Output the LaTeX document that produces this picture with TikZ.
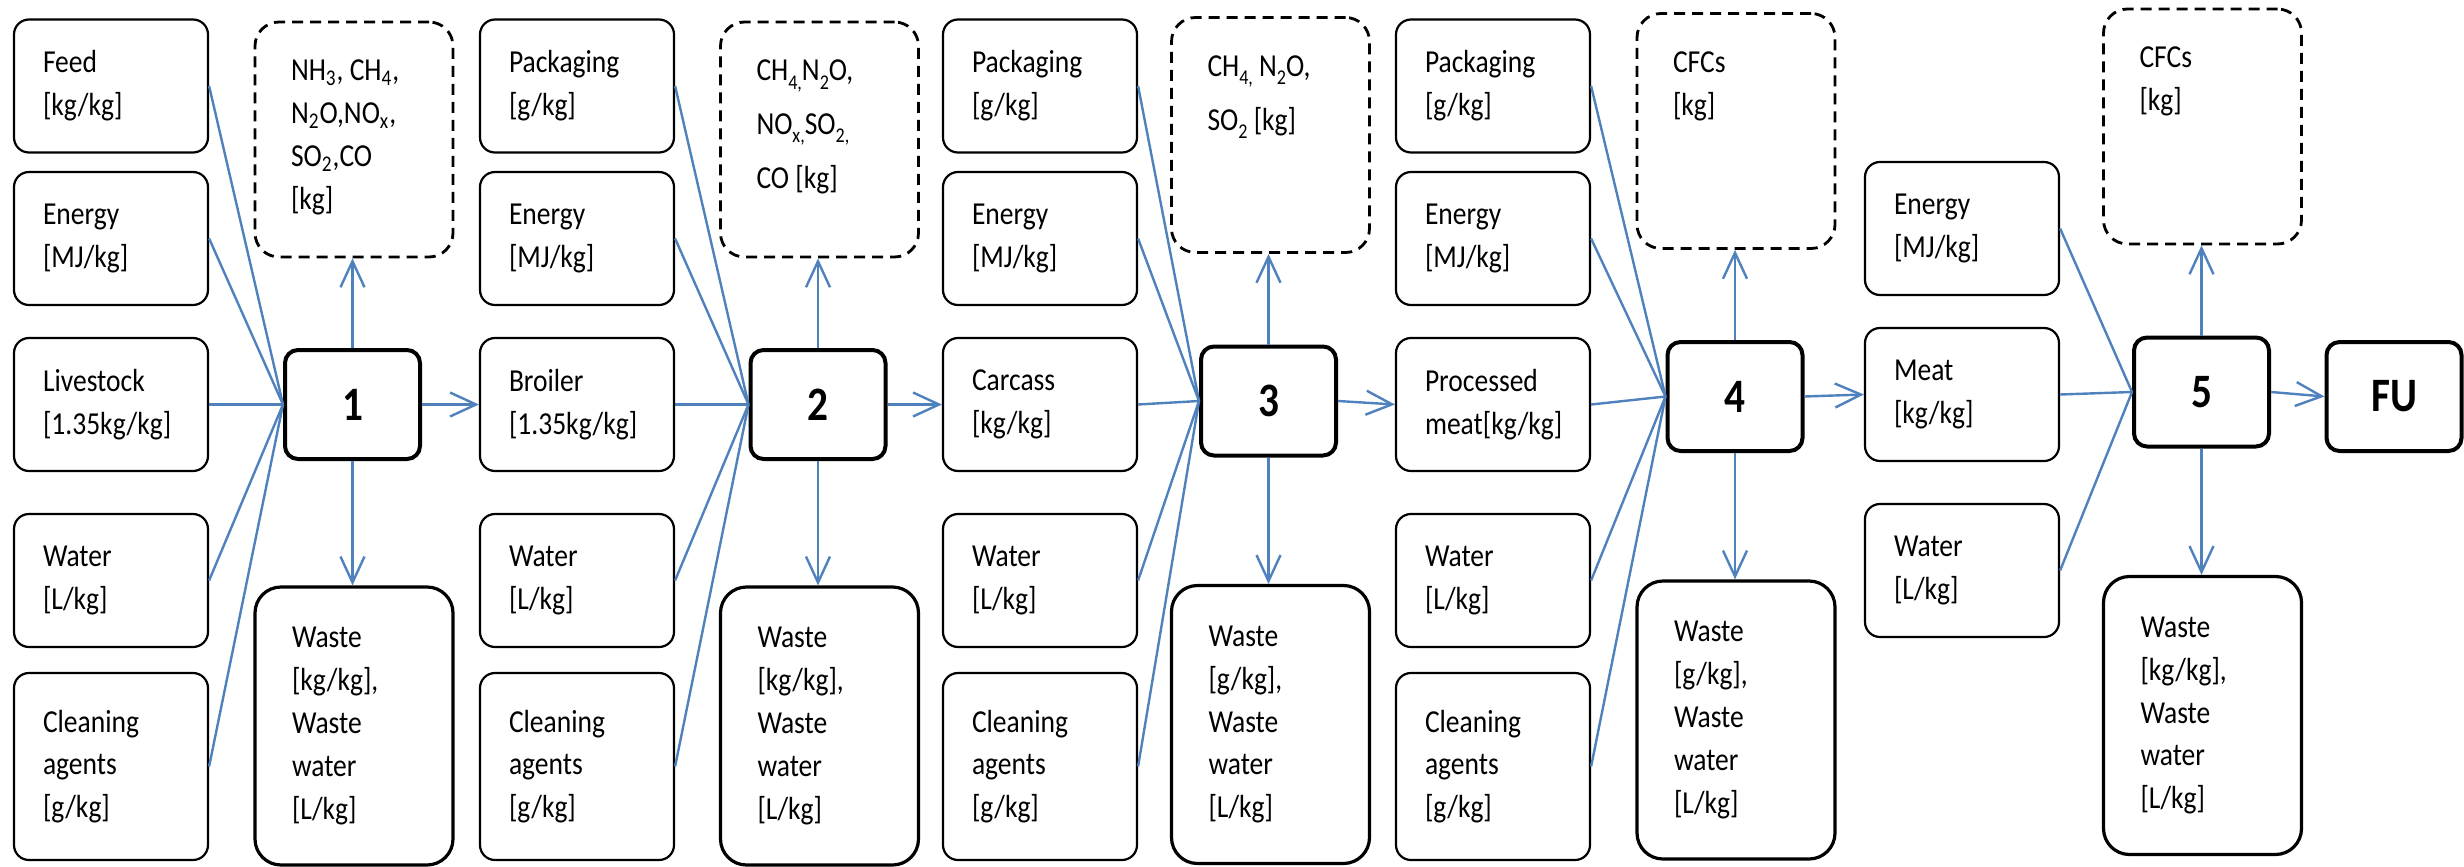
\documentclass[tikz,border=0pt]{standalone}
\usepackage{fontspec}
\setmainfont{Carlito}[FakeStretch=0.86]
\usetikzlibrary{arrows.meta}
\definecolor{flowblue}{RGB}{79,129,189}
\newcommand{\lsub}[1]{\raisebox{-0.55ex}{\fontsize{10.5}{10.5}\selectfont #1}}
\newcommand{\boxfont}{\fontsize{16}{21.4}\selectfont}

\begin{document}
\begin{tikzpicture}[x=0.5pt,y=-0.5pt]
\tikzstyle{inbox} = [draw=black,line width=1.1pt,rounded corners=7.5pt,minimum width=97pt,minimum height=66.5pt,text width=68pt,inner xsep=14.5pt,align=left,font=\boxfont]
\tikzstyle{cleanbox} = [inbox,minimum height=93.5pt]
\tikzstyle{wastebox} = [draw=black,line width=1.6pt,rounded corners=13pt,minimum width=99pt,minimum height=139pt,text width=62pt,inner xsep=18.5pt,align=left,font=\boxfont]
\tikzstyle{embox} = [draw=black,line width=1.4pt,dash pattern=on 5.5pt off 3.5pt,rounded corners=12pt,minimum width=99pt,minimum height=117.5pt]
\tikzstyle{emtext} = [anchor=north west,align=left,inner sep=0pt,xshift=18.5pt,yshift=-19.5pt,font=\boxfont]
\tikzstyle{stage} = [draw=black,line width=2pt,rounded corners=6.5pt,minimum width=67.5pt,minimum height=54.5pt,font=\fontsize{24}{24}\selectfont\bfseries]
\tikzstyle{edge} = [draw=flowblue,line width=1.2pt]
\tikzstyle{flow} = [edge,-{Straight Barb[length=13pt,width=12pt]}]
\useasboundingbox (0,0) rectangle (2464,867);

% stage 1
\node[inbox] (feed) at (111,86) {Feed\\{}[kg/kg]};
\node[inbox] (en1) at (111,238.5) {Energy\\{}[MJ/kg]};
\node[inbox] (live) at (111,404.5) {Livestock\\{}[1.35kg/kg]};
\node[inbox] (wat1) at (111,580.5) {Water\\{}[L/kg]};
\node[cleanbox] (cl1) at (111,766.5) {Cleaning\\agents\\{}[g/kg]};
\node[stage] (p1) at (352.5,404.5) {1};
\node[embox,label={[emtext]north west:{NH\textsubscript{3}, CH\textsubscript{4},\\N\textsubscript{2}O,NO\textsubscript{x},\\SO\textsubscript{2},CO\\{}[kg]}}] (e1) at (354,139.5) {};
\node[wastebox] (w1) at (354,726) {Waste\\{}[kg/kg],\\Waste\\water\\{}[L/kg]};

% stage 2
\node[inbox] (pack2) at (577,86) {Packaging\\{}[g/kg]};
\node[inbox] (en2) at (577,238.5) {Energy\\{}[MJ/kg]};
\node[inbox] (broiler) at (577,404.5) {Broiler\\{}[1.35kg/kg]};
\node[inbox] (wat2) at (577,580.5) {Water\\{}[L/kg]};
\node[cleanbox] (cl2) at (577,766.5) {Cleaning\\agents\\{}[g/kg]};
\node[stage] (p2) at (818,404.5) {2};
\node[embox,label={[emtext]north west:{CH\lsub{4,}N\lsub{2}O,\\[5.5pt]NO\lsub{x,}SO\lsub{2,}\\[5.5pt]CO [kg]}}] (e2) at (819.5,139.5) {};
\node[wastebox] (w2) at (819.5,726) {Waste\\{}[kg/kg],\\Waste\\water\\{}[L/kg]};

% stage 3
\node[inbox] (pack3) at (1040,86) {Packaging\\{}[g/kg]};
\node[inbox] (en3) at (1040,238.5) {Energy\\{}[MJ/kg]};
\node[inbox] (carcass) at (1040,404.5) {Carcass\\{}[kg/kg]};
\node[inbox] (wat3) at (1040,580.5) {Water\\{}[L/kg]};
\node[cleanbox] (cl3) at (1040,766.5) {Cleaning\\agents\\{}[g/kg]};
\node[stage] (p3) at (1268.5,401) {3};
\node[embox,label={[emtext]north west:{CH\lsub{4,} N\lsub{2}O,\\[5.5pt]SO\lsub{2} [kg]}}] (e3) at (1270.5,135) {};
\node[wastebox] (w3) at (1270.5,724.5) {Waste\\{}[g/kg],\\Waste\\water\\{}[L/kg]};

% stage 4
\node[inbox] (pack4) at (1493,86) {Packaging\\{}[g/kg]};
\node[inbox] (en4) at (1493,238.5) {Energy\\{}[MJ/kg]};
\node[inbox] (procmeat) at (1493,404.5) {Processed\\meat[kg/kg]};
\node[inbox] (wat4) at (1493,580.5) {Water\\{}[L/kg]};
\node[cleanbox] (cl4) at (1493,766.5) {Cleaning\\agents\\{}[g/kg]};
\node[stage] (p4) at (1735,396.5) {4};
\node[embox,label={[emtext]north west:{CFCs\\{}[kg]}}] (e4) at (1736,131) {};
\node[wastebox] (w4) at (1736,720) {Waste\\{}[g/kg],\\Waste\\water\\{}[L/kg]};

% stage 5
\node[inbox] (en5) at (1962,228.5) {Energy\\{}[MJ/kg]};
\node[inbox] (meat) at (1962,394.5) {Meat\\{}[kg/kg]};
\node[inbox] (wat5) at (1962,570.5) {Water\\{}[L/kg]};
\node[stage] (p5) at (2201.5,392) {5};
\node[embox,label={[emtext]north west:{CFCs\\{}[kg]}}] (e5) at (2202.5,126.5) {};
\node[wastebox] (w5) at (2202.5,715.5) {Waste\\{}[kg/kg],\\Waste\\water\\{}[L/kg]};
\node[stage] (fu) at (2394,396.5) {FU};

% inputs
\draw[edge] (feed.east) -- (p1.west);
\draw[edge] (en1.east) -- (p1.west);
\draw[edge] (live.east) -- (p1.west);
\draw[edge] (wat1.east) -- (p1.west);
\draw[edge] (cl1.east) -- (p1.west);
\draw[edge] (pack2.east) -- (p2.west);
\draw[edge] (en2.east) -- (p2.west);
\draw[edge] (broiler.east) -- (p2.west);
\draw[edge] (wat2.east) -- (p2.west);
\draw[edge] (cl2.east) -- (p2.west);
\draw[edge] (pack3.east) -- (p3.west);
\draw[edge] (en3.east) -- (p3.west);
\draw[edge] (carcass.east) -- (p3.west);
\draw[edge] (wat3.east) -- (p3.west);
\draw[edge] (cl3.east) -- (p3.west);
\draw[edge] (pack4.east) -- (p4.west);
\draw[edge] (en4.east) -- (p4.west);
\draw[edge] (procmeat.east) -- (p4.west);
\draw[edge] (wat4.east) -- (p4.west);
\draw[edge] (cl4.east) -- (p4.west);
\draw[edge] (en5.east) -- (p5.west);
\draw[edge] (meat.east) -- (p5.west);
\draw[edge] (wat5.east) -- (p5.west);

% outputs
\draw[flow] (p1.east) -- (broiler.west);
\draw[flow] (p2.east) -- (carcass.west);
\draw[flow] (p3.east) -- (procmeat.west);
\draw[flow] (p4.east) -- (meat.west);
\draw[flow] (p5.east) -- (fu.west);
\draw[flow] (p1.north) -- (p1.north |- e1.south);
\draw[flow] (p2.north) -- (p2.north |- e2.south);
\draw[flow] (p3.north) -- (p3.north |- e3.south);
\draw[flow] (p4.north) -- (p4.north |- e4.south);
\draw[flow] (p5.north) -- (p5.north |- e5.south);
\draw[flow] (p1.south) -- (p1.south |- w1.north);
\draw[flow] (p2.south) -- (p2.south |- w2.north);
\draw[flow] (p3.south) -- (p3.south |- w3.north);
\draw[flow] (p4.south) -- (p4.south |- w4.north);
\draw[flow] (p5.south) -- (p5.south |- w5.north);
\end{tikzpicture}
\end{document}
